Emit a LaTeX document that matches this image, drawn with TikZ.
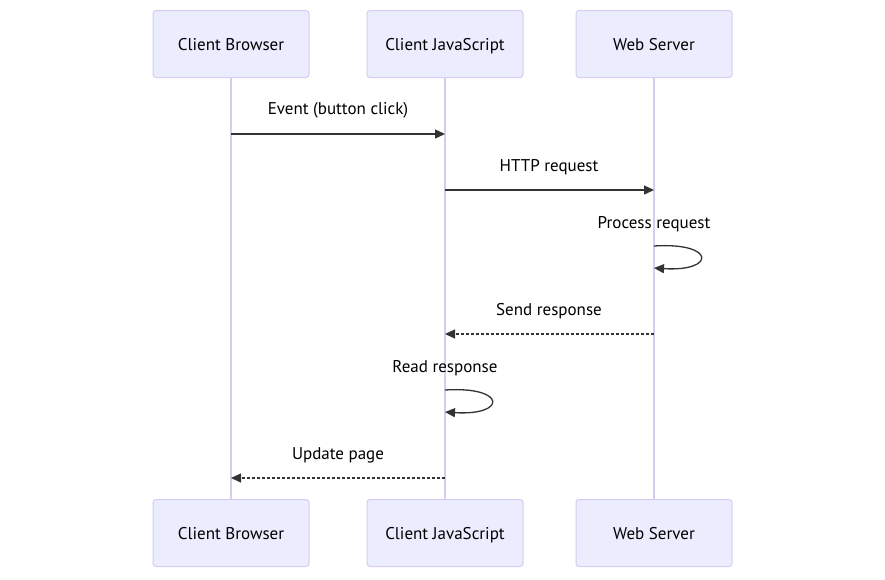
\documentclass[tikz,border=0pt]{standalone}
\usepackage{fontspec}
\setmainfont{PT Sans}
\usetikzlibrary{arrows.meta,calc}
\definecolor{actfill}{HTML}{ECECFF}
\definecolor{actline}{HTML}{D5CCF2}
\definecolor{ink}{HTML}{333333}
\tikzset{
  actor/.style={draw=actline, fill=actfill, line width=1pt, rounded corners=3pt,
    minimum width=156pt, minimum height=67pt, inner sep=0pt, text height=12pt, text depth=0pt,
    font=\fontsize{17}{20}\selectfont, text=black},
  lifeline/.style={draw=actline, line width=1.5pt},
  msg/.style={draw=ink, line width=1.3pt, -{Triangle[length=10pt,width=9pt]}},
  dmsg/.style={msg, dash pattern=on 3pt off 2pt},
  lbl/.style={font=\fontsize{17}{20}\selectfont, text=black, inner sep=0pt, anchor=base}
}
\begin{document}
\begin{tikzpicture}[x=1pt,y=-1pt]
\useasboundingbox (0,0) rectangle (885,579);
\node[actor] (cbT) at (231,44) {Client Browser};
\node[actor] (cjT) at (445,44) {Client JavaScript};
\node[actor] (wsT) at (654,44) {Web Server};
\node[actor] (cbB) at (231,533) {Client Browser};
\node[actor] (cjB) at (445,533) {Client JavaScript};
\node[actor] (wsB) at (654,533) {Web Server};
\draw[lifeline] (cbT.south) -- (cbB.north);
\draw[lifeline] (cjT.south) -- (cjB.north);
\draw[lifeline] (wsT.south) -- (wsB.north);
% messages
\node[lbl] (l1) at (338,114) {Event (button click)};
\draw[msg] (cbT.south |- 0,134) -- (cjT.south |- 0,134);
\node[lbl] (l2) at (549,171) {HTTP request};
\draw[msg] (cjT.south |- 0,190) -- (wsT.south |- 0,190);
\node[lbl] (l3) at (654,228) {Process request};
\coordinate (s3a) at (wsT.south |- 0,246);
\coordinate (s3b) at (wsT.south |- 0,268);
\draw[msg] (s3a) .. controls ($(s3a)+(62,-4)$) and ($(s3b)+(62,4)$) .. (s3b);
\node[lbl] (l4) at (549,315) {Send response};
\draw[dmsg] (wsT.south |- 0,334) -- (cjT.south |- 0,334);
\node[lbl] (l5) at (445,372) {Read response};
\coordinate (s5a) at (cjT.south |- 0,390);
\coordinate (s5b) at (cjT.south |- 0,412);
\draw[msg] (s5a) .. controls ($(s5a)+(62,-4)$) and ($(s5b)+(62,4)$) .. (s5b);
\node[lbl] (l6) at (338,459) {Update page};
\draw[dmsg] (cjT.south |- 0,478) -- (cbT.south |- 0,478);
\end{tikzpicture}
\end{document}
